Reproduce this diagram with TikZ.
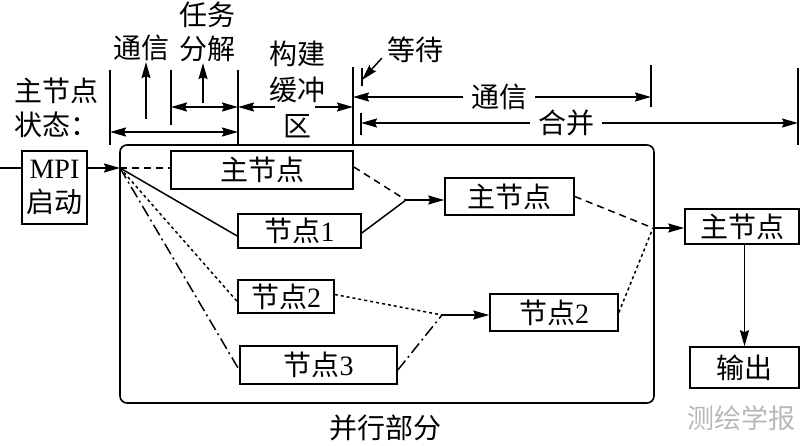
\documentclass[tikz,border=0pt]{standalone}
\usepackage{fontspec}
\setmainfont{Liberation Serif}
\newfontfamily\cjk{Noto Sans CJK SC}
\usetikzlibrary{arrows.meta,calc}
\newcommand{\zh}[1]{{\cjk #1}}

\begin{document}
\begin{tikzpicture}[x=1pt,y=-1pt,
    >={Stealth[length=16pt,width=9pt,inset=2pt]},
    every node/.style={font=\fontsize{28}{34}\selectfont},
    box/.style={draw,line width=1.6pt,inner sep=0pt,align=center},
    note/.style={inner sep=1pt,align=center},
    link/.style={line width=1.5pt},
    tick/.style={line width=1.5pt},
    dashline/.style={link,dash pattern=on 7pt off 5pt},
    dotline/.style={link,dash pattern=on 3pt off 3pt},
    chainline/.style={link,dash pattern=on 12pt off 4pt on 2pt off 4pt}]
  \useasboundingbox (0,0) rectangle (800,446);

  % boxes
  \node[box,rounded corners=7pt,minimum width=534pt,minimum height=258pt] (part) at (387,274) {};
  \node[note] (partname) at (385,428) {\zh{并行部分}};
  \node[box,minimum width=65pt,minimum height=73pt] (mpi) at (54.5,187.5) {MPI\\\zh{启动}};
  \node[box,minimum width=182pt,minimum height=38pt] (mainA) at (262,170) {\zh{主节点}};
  \node[box,minimum width=123pt,minimum height=34pt] (n1) at (299.5,231) {\zh{节点}1};
  \node[box,minimum width=96pt,minimum height=33pt] (n2) at (286,296.5) {\zh{节点}2};
  \node[box,minimum width=157pt,minimum height=38pt] (n3) at (318.5,365) {\zh{节点}3};
  \node[box,minimum width=129pt,minimum height=37pt] (mainB) at (509.5,196.5) {\zh{主节点}};
  \node[box,minimum width=128pt,minimum height=37pt] (n2b) at (554,312.5) {\zh{节点}2};
  \node[box,minimum width=114pt,minimum height=35pt] (mainC) at (742,226.5) {\zh{主节点}};
  \node[box,minimum width=109pt,minimum height=41pt] (out) at (744.5,367.5) {\zh{输出}};
  \node[note,text=black!28,font=\fontsize{27}{34}\selectfont] (mark) at (741,418) {\zh{测绘学报}};

  % connectors
  \coordinate (start) at (0,168);
  \coordinate (fork) at (120,168);
  \coordinate (joinA) at (406,200);
  \coordinate (joinB) at (442,315);
  \coordinate (joinC) at (653,228);
  \draw[link] (start) -- (start -| mpi.west);
  \draw[link,->] (fork -| mpi.east) -- (fork);
  \draw[dashline] (fork) -- (fork -| mainA.west);
  \draw[link] (fork) -- ($(n1.west)+(0,5)$);
  \draw[dotline] (fork) -- ($(n2.west)+(0,5)$);
  \draw[chainline] (fork) -- ($(n3.west)+(0,5)$);
  \draw[link] ($(n1.east)+(0,2)$) -- (joinA);
  \draw[dashline] ($(mainA.east)+(0,-3)$) -- (joinA);
  \draw[link,->] (joinA) -- (joinA -| mainB.west);
  \draw[dotline] ($(n2.east)+(0,-2)$) -- (joinB);
  \draw[chainline] ($(n3.east)+(0,5)$) -- (joinB);
  \draw[link,->] (joinB) -- (joinB -| n2b.west);
  \draw[dashline] (mainB.east) -- (joinC);
  \draw[dotline] (n2b.east) -- (joinC);
  \draw[link,->] (joinC) -- (joinC -| mainC.west);
  \draw[link,->] (out.north |- mainC.south) -- (out.north);

  % states of the main node
  \node[note,anchor=west,align=left] (state) at (13,108) {\zh{主节点}\\\zh{状态：}};
  \node[note] (tongA) at (141,48) {\zh{通信}};
  \node[note] (task) at (207,32) {\zh{任务}\\\zh{分解}};
  \node[note,font=\fontsize{28}{36}\selectfont] (buf) at (297,89) {\zh{构建}\\\zh{缓冲}\\\zh{区}};
  \node[note] (wait) at (415,50) {\zh{等待}};
  \node[note,inner xsep=8pt] (tongB) at (499,97) {\zh{通信}};
  \node[note,inner xsep=8pt] (merge) at (566,123) {\zh{合并}};

  \foreach \n/\x/\a/\b in {s1/110/70/145, s2/171/70/125, s3/238/70/145, s4/353/67/145,
      s5/362/68/86, s6/651/65/107, s7/361/113/135, s8/798/68/145}
    {\draw[tick] (\x,\a) coordinate (\n) -- (\x,\b);}

  \draw[link,->] ([xshift=5pt,yshift=-57pt]tongA.south) -- ([xshift=5pt]tongA.south);
  \draw[link,->] ([xshift=-4pt,yshift=-40pt]task.south) -- ([xshift=-4pt]task.south);
  \draw[link,<->] ($(s1)+(0,62)$) -- ($(s3)+(0,62)$);
  \draw[link,<->] ($(s2)+(0,37)$) -- ($(s3)+(0,37)$);
  \coordinate (bufL) at (275,107);
  \coordinate (bufR) at (315,107);
  \draw[link,->] (bufL) -- (bufL -| s3);
  \draw[link,->] (bufR) -- (bufR -| s4);
  \draw[link,->] ([xshift=-4pt,yshift=6pt]wait.south west) -- ($(s5)+(0,12)$);
  \draw[link,->] (tongB.west) -- (tongB.west -| s4);
  \draw[link,->] (tongB.east) -- (tongB.east -| s6);
  \draw[link,->] (merge.west) -- (merge.west -| s7);
  \draw[link,->] (merge.east) -- (merge.east -| s8);
\end{tikzpicture}
\end{document}
